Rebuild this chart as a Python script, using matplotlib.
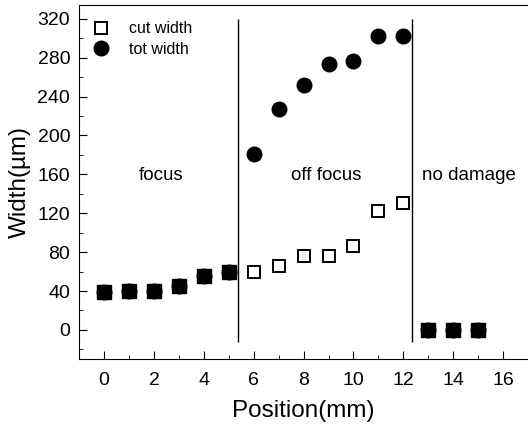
import matplotlib.pyplot as plt
from matplotlib.ticker import MultipleLocator

plt.rcParams['font.family'] = ['Liberation Sans', 'DejaVu Sans']

# data
position = [0, 1, 2, 3, 4, 5, 6, 7, 8, 9, 10, 11, 12, 13, 14, 15]
cut_width = [39, 40, 40, 45, 55, 60, 60, 66, 76, 76, 86, 122, 131, 0, 0, 0]
tot_width = [39, 40, 40, 45, 55, 60, 181, 227, 252, 273, 277, 302, 302, 0, 0, 0]
regions = ['focus', 'off focus', 'no damage']
region_x = [2.28, 8.92, 14.65]
boundaries = [5.35, 12.35]

fig = plt.figure(figsize=(5.28, 4.25), dpi=100)
ax = fig.add_axes([0.150, 0.155, 0.85, 0.833])

ax.plot(position, tot_width, 'o', color='black', markersize=10.5, label='tot width', zorder=3)
ax.plot(position, cut_width, 's', markerfacecolor='white', markeredgecolor='black',
        markeredgewidth=1.4, markersize=8.5, label='cut width', zorder=2)
# where both widths coincide the marks merge into filled squares
ax.plot(position[:6] + position[13:], tot_width[:6] + tot_width[13:], 's', color='black',
        markersize=9.5, zorder=4)

ax.vlines(boundaries, -12, 320, color='black', linewidth=1)

for name, xr in zip(regions, region_x):
    ax.text(xr, 154, name, ha='center', va='baseline', fontsize=13.5)

ax.set_xlim(-1, 17)
ax.set_ylim(-30, 334)
ax.xaxis.set_major_locator(MultipleLocator(2))
ax.xaxis.set_minor_locator(MultipleLocator(1))
ax.yaxis.set_major_locator(MultipleLocator(40))
ax.yaxis.set_minor_locator(MultipleLocator(20))
ax.tick_params(which='both', direction='in', top=False, right=False, labelsize=14)
ax.tick_params(which='major', length=6)
ax.tick_params(which='minor', length=3)
ax.tick_params(axis='x', which='major', pad=9)
ax.tick_params(axis='y', which='major', pad=6.5)
ax.spines['right'].set_visible(False)

ax.set_xlabel('Position(mm)', fontsize=17.5, labelpad=8)
ax.set_ylabel('Width(µm)', fontsize=17.5, labelpad=5)

handles, labels = ax.get_legend_handles_labels()
ax.legend(handles[::-1], labels[::-1], loc='upper left', bbox_to_anchor=(-0.01, 0.995),
          frameon=False, fontsize=11.5, handletextpad=1.0, labelspacing=0.35,
          handlelength=1.5)

fig.savefig('out.png', dpi=100)
